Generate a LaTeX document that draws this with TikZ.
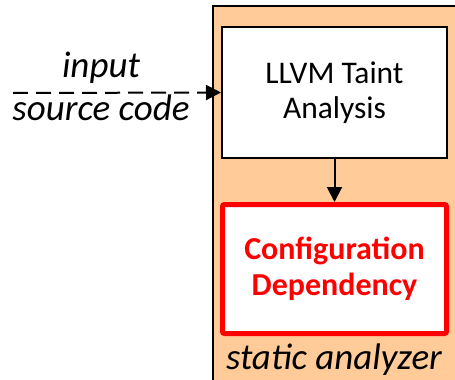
\documentclass[tikz,border=0pt]{standalone}
\usepackage{fontspec}
\setmainfont{Carlito}
\usetikzlibrary{arrows.meta}
\definecolor{peach}{HTML}{FFCC99}
\definecolor{alertred}{HTML}{FF0000}
\tikzset{
  txt/.style={font=\fontsize{31.5}{35}\selectfont, align=center},
  captxt/.style={font=\fontsize{37}{40}\selectfont\itshape, anchor=base, inner sep=0pt},
  stage/.style={draw=black, fill=white, line width=2pt, minimum width=225pt, minimum height=131pt, inner sep=0pt, txt},
  result/.style={draw=alertred, fill=white, line width=5pt, rounded corners=2pt, minimum width=224pt, minimum height=129pt, inner sep=0pt, txt, text=alertred, font=\fontsize{32}{36}\selectfont\bfseries},
  flow/.style={line width=2pt, -{Triangle[length=15pt, width=15pt]}},
}
\begin{document}
\begin{tikzpicture}[x=1pt, y=-1pt]
  \useasboundingbox (0,0) rectangle (455,380);
  \clip (0,0) rectangle (455,380);
  % analyzer container, running past the right and bottom edges
  \node[draw=black, fill=peach, line width=2pt, anchor=north west, minimum width=260pt, minimum height=400pt, inner sep=0pt] (analyzer) at (212,5) {};
  \node[stage] (taint) at (334.5,92.5) {LLVM Taint\\Analysis};
  \node[result] (dep) at (334.5,269) {Configuration\\Dependency};
  \node[captxt] (label) at (334,369) {static analyzer};
  % input edge
  \coordinate (src) at (13,93);
  \draw[flow, dash pattern=on 15pt off 8pt] (src) -- (taint.west);
  \node[captxt] (inp) at (101,77) {input};
  \node[captxt] (code) at (101,120) {source code};
  \draw[flow] (taint.south) -- (dep.north);
\end{tikzpicture}
\end{document}
